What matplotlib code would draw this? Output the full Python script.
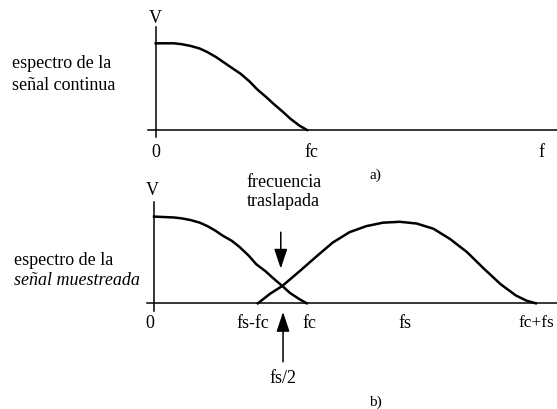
"""
Espectro de una señal continua y de la misma señal muestreada (aliasing).
"""

import matplotlib
matplotlib.use("Agg")
import matplotlib.pyplot as plt

plt.rcParams["font.family"] = ["Liberation Serif", "DejaVu Serif"]
FS = 13
LW_CURVE = 1.8
LW_AXIS = 1.1

# ---- espectro de la señal continua (f en unidades de fc) --------
f_cont = [0.0, 0.12, 0.17, 0.23, 0.29, 0.34, 0.40, 0.45, 0.50, 0.56,
          0.62, 0.67, 0.73, 0.78, 0.84, 0.89, 0.95, 1.0]
v_cont = [1.0, 1.0, 0.99, 0.97, 0.94, 0.90, 0.84, 0.78, 0.72, 0.65,
          0.56, 0.47, 0.38, 0.30, 0.21, 0.13, 0.05, 0.0]
ticks_a = [0.0, 1.03, 2.55]
labels_a = ["0", "fc", "f"]

# ---- espectro de la señal muestreada ----------------------------
f_base = [0.0, 0.13, 0.18, 0.24, 0.30, 0.35, 0.40, 0.45, 0.51, 0.56,
          0.62, 0.67, 0.73, 0.78, 0.84, 0.89, 0.95, 1.0]
v_base = [1.0, 0.99, 0.98, 0.96, 0.93, 0.89, 0.84, 0.78, 0.72, 0.65,
          0.55, 0.45, 0.37, 0.29, 0.20, 0.12, 0.05, 0.0]
f_img = [0.68, 0.76, 0.84, 0.96, 1.07, 1.17, 1.28, 1.39, 1.50, 1.61,
         1.72, 1.83, 1.94, 2.05, 2.16, 2.27, 2.37, 2.44, 2.50]
v_img = [0.0, 0.11, 0.20, 0.38, 0.55, 0.70, 0.82, 0.89, 0.93, 0.94,
         0.92, 0.86, 0.74, 0.59, 0.40, 0.22, 0.09, 0.03, 0.0]
ticks_b = [-0.03, 0.65, 1.02, 1.64, 2.53]
labels_b = ["0", "fs-fc", "fc", "fs", "fc+fs"]
f_half = 0.845

fig = plt.figure(figsize=(5.57, 4.10), dpi=100)
ax_a = fig.add_axes([0, 1 - 200 / 410, 1, 200 / 410])
ax_b = fig.add_axes([0, 0, 1, 210 / 410])
ax_a.set_xlim(-1.029, 2.652)
ax_a.set_ylim(-0.796, 1.511)
ax_b.set_xlim(-1.0085, 2.639)
ax_b.set_ylim(-1.219, 1.203)
for ax in (ax_a, ax_b):
    ax.axis("off")

# a) señal continua
ax_a.plot([0, 0], [-0.08, 1.19], color="black", lw=LW_AXIS)
ax_a.plot([-0.05, 2.66], [0, 0], color="black", lw=LW_AXIS)
ax_a.plot(f_cont, v_cont, color="black", lw=LW_CURVE, solid_joinstyle="round")
ax_a.text(0, 1.30, "V", ha="center", va="center", fontsize=FS)
for t, lab in zip(ticks_a, labels_a):
    ax_a.text(t, -0.25, lab, ha="center", va="center", fontsize=FS)
ax_a.text(1.45, -0.51, "a)", ha="center", va="center", fontsize=FS - 2)
ax_a.text(-0.95, 0.78, "espectro de la", ha="left", va="center", fontsize=FS)
ax_a.text(-0.95, 0.53, "señal continua", ha="left", va="center", fontsize=FS)

# b) señal muestreada
ax_b.plot([0, 0], [-0.085, 1.17], color="black", lw=LW_AXIS)
ax_b.plot([-0.046, 2.66], [0, 0], color="black", lw=LW_AXIS)
ax_b.plot(f_base, v_base, color="black", lw=LW_CURVE, solid_joinstyle="round")
ax_b.plot(f_img, v_img, color="black", lw=LW_CURVE, solid_joinstyle="round")
ax_b.text(-0.01, 1.31, "V", ha="center", va="center", fontsize=FS)
for t, lab in zip(ticks_b[:-1], labels_b[:-1]):
    ax_b.text(t, -0.22, lab, ha="center", va="center", fontsize=FS)
# la última etiqueta queda pegada al borde derecho
ax_b.text(2.62, -0.22, labels_b[-1], ha="right", va="center", fontsize=FS - 0.5)
ax_b.text(-0.92, 0.51, "espectro de la", ha="left", va="center", fontsize=FS)
ax_b.text(-0.92, 0.28, "señal muestreada", ha="left", va="center",
          fontsize=FS, style="italic")

ax_b.text(0.85, 1.40, "frecuencia", ha="center", va="center", fontsize=FS)
ax_b.text(0.85, 1.19, "traslapada", ha="center", va="center", fontsize=FS)

arrow = dict(arrowstyle="-|>,head_length=1.2,head_width=0.4",
             color="black", lw=LW_AXIS, shrinkA=0, shrinkB=0,
             mutation_scale=10)
ax_b.annotate("", xy=(0.83, 0.40), xytext=(0.83, 0.82), arrowprops=arrow)
ax_b.annotate("", xy=(f_half, -0.10), xytext=(f_half, -0.675),
              arrowprops=arrow)
ax_b.text(f_half, -0.85, "fs/2", ha="center", va="center", fontsize=FS)
ax_b.text(1.45, -1.13, "b)", ha="center", va="center", fontsize=FS - 2)

fig.savefig("out.png", dpi=100)
